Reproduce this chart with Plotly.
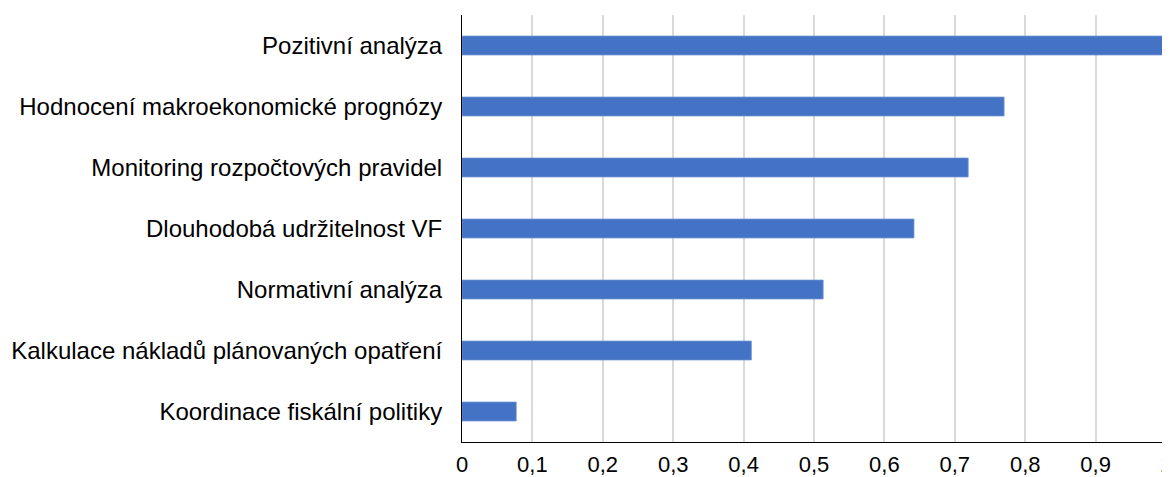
import plotly.graph_objects as go

# Categories listed top to bottom as they appear in the chart
categories = [
    "Pozitivní analýza",
    "Hodnocení makroekonomické prognózy",
    "Monitoring rozpočtových pravidel",
    "Dlouhodobá udržitelnost VF",
    "Normativní analýza",
    "Kalkulace nákladů plánovaných opatření",
    "Koordinace fiskální politiky",
]
values = [1.0, 0.770, 0.719, 0.642, 0.513, 0.411, 0.077]

tick_vals = [0, 0.1, 0.2, 0.3, 0.4, 0.5, 0.6, 0.7, 0.8, 0.9, 1]
tick_text = ["0", "0,1", "0,2", "0,3", "0,4", "0,5", "0,6", "0,7", "0,8", "0,9", "1"]

fig = go.Figure()
fig.add_trace(go.Bar(
    y=categories,
    x=values,
    orientation='h',
    marker=dict(color='#4472C4', line=dict(color='#6f93d6', width=0.8)),
    width=0.31,
))

# page body adds an 8px offset, so the figure is sized to fit the window
fig.update_layout(
    width=1162,
    height=469,
    margin=dict(l=454, r=4, t=7, b=35),
    plot_bgcolor='white',
    paper_bgcolor='white',
    font=dict(family='Liberation Sans, Arial, sans-serif', size=24, color='#000000'),
    separators=', ',
    showlegend=False,
)

fig.update_xaxes(
    range=[0, 1],
    tickmode='array',
    tickvals=tick_vals,
    ticktext=tick_text,
    tickfont=dict(size=22),
    showgrid=True,
    gridcolor='#d9d9d9',
    gridwidth=2,
    showline=True,
    linecolor='#000000',
    linewidth=1,
    zeroline=False,
    ticks='',
    ticklabelstandoff=3,
    ticklabeloverflow='allow',
    automargin=False,
)

fig.update_yaxes(
    categoryorder='array',
    categoryarray=categories[::-1],
    showgrid=False,
    showline=True,
    linecolor='#000000',
    linewidth=1,
    ticks='',
    ticklabelstandoff=14,
    automargin=False,
)

fig.write_html("out.html")
